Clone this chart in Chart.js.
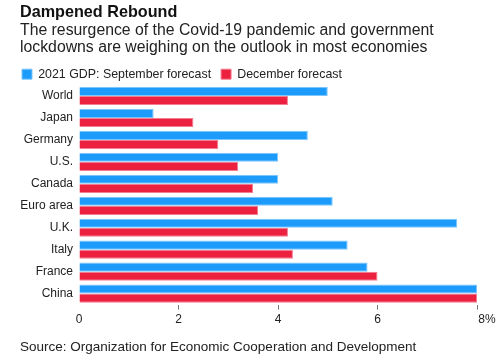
<!DOCTYPE html>
<html>
<head>
<meta charset="utf-8">
<script src="https://cdn.jsdelivr.net/npm/chart.js@4/dist/chart.umd.min.js"></script>
<style>
  html, body { margin: 0; padding: 0; background: #fff; }
  body { width: 500px; height: 364px; position: relative; overflow: hidden; font-family: 'Liberation Sans', Arial, sans-serif; color: #111; }
  #title { position: absolute; left: 20px; top: 2px; font-size: 16.2px; font-weight: bold; }
  #subtitle { position: absolute; left: 20px; top: 21px; font-size: 15.8px; line-height: 17px; color: #222; }
  #source { position: absolute; left: 20px; top: 339px; font-size: 13.5px; color: #222; }
  #wrap { position: absolute; left: 0; top: 0; width: 500px; height: 364px; }
</style>
</head>
<body>
<div id="wrap"><canvas id="bar-chart" width="500" height="364"></canvas></div>
<div id="title">Dampened Rebound</div>
<div id="subtitle">The resurgence of the Covid-19 pandemic and government<br>lockdowns are weighing on the outlook in most economies</div>
<div id="source">Source: Organization for Economic Cooperation and Development</div>
<script>
const countries = ['World', 'Japan', 'Germany', 'U.S.', 'Canada', 'Euro area', 'U.K.', 'Italy', 'France', 'China'];
const septemberForecast = [5.0, 1.5, 4.6, 4.0, 4.0, 5.1, 7.6, 5.4, 5.8, 8.0];
const decemberForecast = [4.2, 2.3, 2.8, 3.2, 3.5, 3.6, 4.2, 4.3, 6.0, 8.0];
const xTicks = [0, 2, 4, 6, 8];

const colors = {
    blue: '#1d9bfb',
    blueEdge: '#7cc6fd',
    red: '#ec2140',
    redEdge: '#f47d90',
};

const font = "'Liberation Sans', Arial, sans-serif";
Chart.defaults.font.family = font;
Chart.defaults.color = '#222';

const config = {
    type: 'bar',
    data: {
        labels: countries,
        datasets: [
            {
                label: '2021 GDP: September forecast',
                data: septemberForecast,
                backgroundColor: colors.blue,
                borderColor: colors.blueEdge,
                borderWidth: 1,
            },
            {
                label: 'December forecast',
                data: decemberForecast,
                backgroundColor: colors.red,
                borderColor: colors.redEdge,
                borderWidth: 1,
            },
        ]
    },
    options: {
        indexAxis: 'y',
        responsive: false,
        animation: false,
        datasets: {
            bar: { barPercentage: 1, categoryPercentage: 0.83 }
        },
        layout: {
            padding: { top: 58, left: 12, right: 23, bottom: 34 }
        },
        plugins: {
            legend: {
                align: 'start',
                maxHeight: 27,
                labels: {
                    boxWidth: 10,
                    boxHeight: 10,
                    padding: 10,
                    font: { size: 12.4 },
                    color: '#222',
                },
            },
            tooltip: { enabled: false },
        },
        scales: {
            x: {
                min: 0,
                max: 8,
                afterBuildTicks: (axis) => { axis.ticks = xTicks.map(v => ({ value: v })); },
                ticks: {
                    font: { size: 12 },
                    color: '#222',
                    padding: 3,
                    callback: (v) => v === 8 ? '      8%' : String(v),
                },
                grid: {
                    drawOnChartArea: false,
                    tickLength: 5,
                    color: (ctx) => ctx.index === 0 ? 'rgba(0,0,0,0)' : '#777',
                },
                border: { display: false },
            },
            y: {
                afterFit: (axis) => { axis.width = 67; },
                ticks: {
                    font: { size: 12 },
                    color: '#222',
                    padding: 6,
                },
                grid: { display: false, drawTicks: false },
                border: { display: false },
            }
        }
    }
};

new Chart(document.getElementById('bar-chart'), config);
</script>
</body>
</html>
